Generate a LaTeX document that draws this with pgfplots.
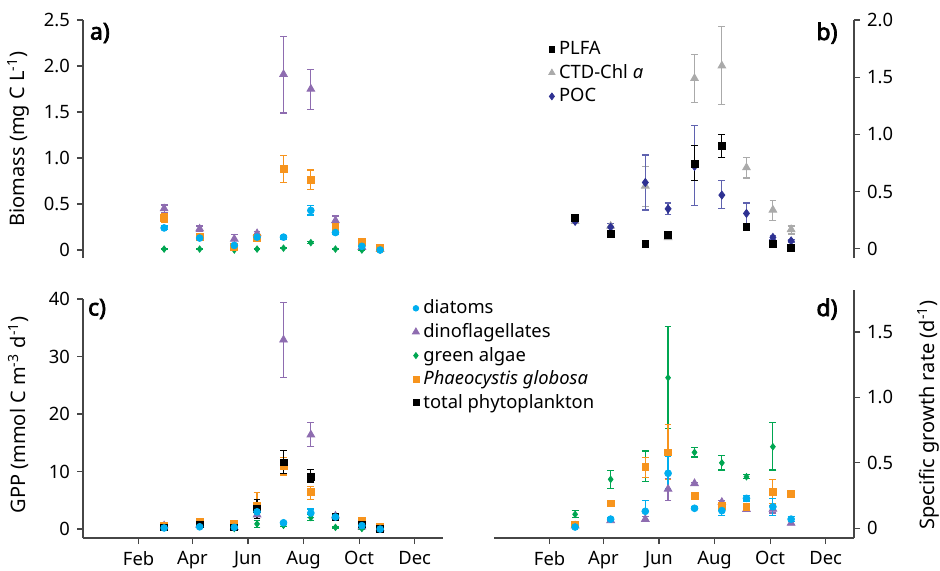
\documentclass[border=0pt]{standalone}
\usepackage{fontspec}
\setmainfont{Noto Sans}
\newfontfamily\panelfam[FakeBold=3]{Noto Sans}
\usepackage{pgfplots}
\pgfplotsset{compat=1.18}
\usepackage{pgfplotstable}

\definecolor{cdia}{RGB}{0,174,239}
\definecolor{cdino}{RGB}{142,108,176}
\definecolor{cgreen}{RGB}{0,166,81}
\definecolor{cphaeo}{RGB}{247,148,29}
\definecolor{cctd}{RGB}{170,170,170}
\definecolor{cpoc}{RGB}{46,49,146}
\definecolor{cpocbar}{RGB}{95,98,175}
\definecolor{caxis}{RGB}{70,70,70}

% x = day of year of each cruise; columns: value, error plus, error minus
% a) biomass per phytoplankton group (mg C L^-1)
\pgfplotstableread{
t   dia  diap diam  dino dinop dinom  gre  grep  grem   pha  phap pham
60  0.24 0.02 0.02  0.45 0.04  0.04   0.01 0.005 0.005  0.35 0.05 0.05
99  0.13 0.02 0.02  0.23 0.03  0.03   0.01 0.005 0.005  0.14 0.02 0.02
137 0.05 0.02 0.02  0.12 0.05  0.05   0.00 0.005 0.005  0.03 0.02 0.02
162 0.14 0.02 0.02  0.18 0.02  0.02   0.01 0.005 0.005  0.13 0.02 0.02
191 0.14 0.02 0.02  1.91 0.41  0.42   0.02 0.005 0.005  0.88 0.15 0.15
221 0.43 0.05 0.05  1.75 0.21  0.22   0.08 0.01  0.01   0.76 0.11 0.10
248 0.19 0.02 0.02  0.32 0.05  0.05   0.01 0.005 0.005  0.25 0.04 0.04
277 0.04 0.02 0.02  0.03 0.01  0.01   0.00 0.005 0.005  0.09 0.03 0.03
297 0.00 0.01 0.01  0.01 0.02  0.02   0.00 0.005 0.005  0.02 0.02 0.02
}\biomass

% b) bulk biomass estimates
\pgfplotstableread{
t   plfa plfap plfam  ctd  ctdp ctdm  poc  pocp pocm
60  0.27 0.01  0.01   0.24 0.01 0.01  0.24 0.01 0.01
99  0.13 0.01  0.01   0.20 0.02 0.02  0.19 0.03 0.03
137 0.04 0.01  0.01   0.55 0.17 0.18  0.58 0.24 0.24
162 0.12 0.01  0.01   0.10 0.01 0.01  0.35 0.05 0.05
191 0.74 0.16  0.14   1.49 0.21 0.21  0.72 0.36 0.34
221 0.90 0.10  0.10   1.60 0.34 0.34  0.47 0.13 0.12
248 0.19 0.02  0.02   0.71 0.09 0.09  0.31 0.09 0.09
277 0.04 0.01  0.01   0.34 0.08 0.09  0.10 0.02 0.02
297 0.01 0.01  0.01   0.17 0.03 0.04  0.07 0.01 0.01
}\bulk

% c) gross primary production (mmol C m^-3 d^-1)
\pgfplotstableread{
t   dia diap diam  dino dinop dinom  gre  grep grem  pha  phap pham  tot  totp totm
60  0.2 0.1  0.1   0.6  0.3   0.3    0.3  0.1  0.1   0.5  0.2  0.2   0.3  0.1  0.1
99  0.4 0.1  0.1   0.7  0.2   0.2    0.5  0.1  0.1   1.3  0.3  0.3   0.8  0.2  0.2
137 0.3 0.1  0.1   0.3  0.1   0.1    0.1  0.1  0.1   1.0  0.2  0.2   0.3  0.1  0.1
162 3.0 0.4  0.4   2.5  0.6   0.6    0.9  0.6  0.6   4.0  2.3  2.2   3.5  1.7  1.7
191 1.1 0.2  0.2   32.9 6.5   6.6    0.65 0.2  0.2   10.9 1.6  1.5   11.6 2.0  1.9
221 2.8 0.7  0.8   16.4 2.1   2.1    2.0  0.5  0.5   6.4  1.0  1.2   9.1  1.3  0.9
248 2.1 0.3  0.3   2.3  0.3   0.3    0.3  0.1  0.1   2.2  0.3  0.3   2.1  0.3  0.3
277 0.6 0.2  0.2   0.4  0.1   0.1    0.1  0.1  0.1   1.5  0.5  0.5   0.8  0.2  0.2
297 0.0 0.1  0.1   0.1  0.1   0.1    0.0  0.1  0.1   0.4  0.2  0.2   0.1  0.1  0.1
}\gpp

% d) specific growth rate (d^-1)
\pgfplotstableread{
t   dia   diap  diam   dino  dinop dinom  gre   grep  grem   pha   phap  pham
60  0.01  0.005 0.005  0.02  0.005 0.005  0.107 0.028 0.027  0.03  0.01  0.01
99  0.07  0.01  0.01   0.06  0.01  0.01   0.374 0.066 0.069  0.19  0.025 0.025
137 0.13  0.08  0.07   0.07  0.02  0.02   0.47  0.12  0.114  0.47  0.07  0.08
162 0.42  0.13  0.12   0.30  0.08  0.09   1.15  0.39  0.39   0.58  0.21  0.21
191 0.153 0.01  0.01   0.343 0.01  0.01   0.58  0.035 0.035  0.25  0.01  0.01
221 0.135 0.035 0.035  0.20  0.01  0.01   0.50  0.055 0.055  0.17  0.01  0.01
248 0.229 0.02  0.02   0.145 0.01  0.01   0.394 0.015 0.015  0.165 0.01  0.01
277 0.165 0.065 0.065  0.147 0.03  0.03   0.623 0.183 0.178  0.28  0.094 0.09
297 0.07  0.02  0.015  0.04  0.01  0.01   nan   nan   nan    0.262 0.01  0.01
}\growth

\newcommand{\tickfont}{\fontsize{9.2}{10}\selectfont}
\newcommand{\panelfont}{\panelfam\fontsize{11.5}{12}\selectfont}

\pgfplotsset{
  panel/.style={
    scale only axis, width=180pt,
    xmin=-29, xmax=366, enlargelimits=false, clip=false,
    axis line style={caxis, line width=0.6pt},
    every tick/.style={caxis, line width=0.6pt},
    major tick length=3pt, tick align=outside,
    tick label style={font=\tickfont, text=black},
    label style={font=\tickfont},
    xtick={32,91,152,213,274,335},
    xticklabels={Feb,Apr,Jun,Aug,Oct,Dec},
    legend cell align=left,
    legend image code/.code={\draw[mark repeat=2,mark phase=2,#1] plot coordinates {(0pt,0pt)(2pt,0pt)(8pt,0pt)};},
  },
  % error bars with caps, both drawn in the colour given as argument
  ebar/.style={
    error bars/y dir=both, error bars/y explicit,
    error bars/error bar style={line width=0.6pt, draw=#1},
    error bars/error mark options={rotate=90, line width=0.6pt, mark size=1.7pt, draw=#1}},
  sdia/.style={only marks, mark=*, mark size=1.7pt, color=cdia, ebar=cdia},
  sdino/.style={only marks, mark=triangle*, mark size=2.2pt, color=cdino, ebar=cdino},
  sgre/.style={only marks, mark=diamond*, mark size=1.6pt, color=cgreen, ebar=cgreen},
  spha/.style={only marks, mark=square*, mark size=1.7pt, color=cphaeo, ebar=cphaeo},
  stot/.style={only marks, mark=square*, mark size=1.7pt, color=black, ebar=black},
  sctd/.style={only marks, mark=triangle*, mark size=2.2pt, color=cctd, ebar=cctd},
  spoc/.style={only marks, mark=diamond*, mark size=2pt, color=cpoc, ebar=cpocbar},
}

\begin{document}
\begin{tikzpicture}
\path[use as bounding box] (0,0) rectangle (470pt,285pt);

% a) group biomass
\begin{axis}[panel, at={(41.5pt,156pt)}, anchor=south west, height=119pt,
  axis x line=none, axis y line*=left,
  ymin=-0.087, ymax=2.5,
  ytick={0,0.5,1,1.5,2,2.5}, yticklabels={0,0.5,1.0,1.5,2.0,2.5},
  ylabel={Biomass (mg C L\textsuperscript{-1})},
  every axis y label/.style={at={(axis description cs:-0.18,0.5)}, anchor=center, rotate=90},
]
\addplot[sdino] table[x=t, y=dino, y error plus=dinop, y error minus=dinom] {\biomass};
\addplot[sgre]  table[x=t, y=gre,  y error plus=grep,  y error minus=grem]  {\biomass};
\addplot[spha]  table[x=t, y=pha,  y error plus=phap,  y error minus=pham]  {\biomass};
\addplot[sdia]  table[x=t, y=dia,  y error plus=diap,  y error minus=diam]  {\biomass};
\node[font=\panelfont] at (axis description cs:0.047,0.945) {a)};
\end{axis}

% b) bulk biomass
\begin{axis}[panel, at={(247pt,156pt)}, anchor=south west, height=119pt,
  axis x line=none, axis y line*=right,
  ymin=-0.08, ymax=2.0,
  ytick={0,0.5,1,1.5,2}, yticklabels={0,0.5,1.0,1.5,2.0},
  legend style={draw=none, fill=none, at={(axis description cs:0.151,0.93)}, anchor=north west,
    font=\tickfont, row sep=-0.5pt, inner sep=0pt},
]
\addlegendimage{only marks, mark=square*, mark size=1.4pt, black}
\addlegendentry{PLFA}
\addlegendimage{only marks, mark=triangle*, mark size=1.8pt, cctd}
\addlegendentry{CTD-Chl \textit{a}}
\addlegendimage{only marks, mark=diamond*, mark size=1.7pt, cpoc}
\addlegendentry{POC}
\addplot[sctd, forget plot] table[x=t, y=ctd,  y error plus=ctdp,  y error minus=ctdm]  {\bulk};
\addplot[spoc, forget plot] table[x=t, y=poc,  y error plus=pocp,  y error minus=pocm]  {\bulk};
\addplot[stot, forget plot] table[x=t, y=plfa, y error plus=plfap, y error minus=plfam] {\bulk};
\node[font=\panelfont] at (axis description cs:0.925,0.945) {b)};
\end{axis}

% c) gross primary production
\begin{axis}[panel, at={(41.5pt,16pt)}, anchor=south west, height=119.5pt,
  axis x line*=bottom, axis y line*=left,
  ymin=-1.55, ymax=40,
  ytick={0,10,20,30,40}, yticklabels={0,10,20,30,40},
  ylabel={GPP (mmol C m\textsuperscript{-3} d\textsuperscript{-1})},
  every axis y label/.style={at={(axis description cs:-0.18,0.515)}, anchor=center, rotate=90},
  legend style={draw=none, fill=none, at={(axis description cs:0.914,1.015)}, anchor=north west,
    font=\tickfont, row sep=-0.7pt, inner sep=0pt},
]
\addlegendimage{only marks, mark=*, mark size=1.4pt, cdia}
\addlegendentry{diatoms}
\addlegendimage{only marks, mark=triangle*, mark size=2pt, cdino}
\addlegendentry{dinoflagellates}
\addlegendimage{only marks, mark=diamond*, mark size=1.5pt, cgreen}
\addlegendentry{green algae}
\addlegendimage{only marks, mark=square*, mark size=1.5pt, cphaeo}
\addlegendentry{\textit{Phaeocystis globosa}}
\addlegendimage{only marks, mark=square*, mark size=1.5pt, black}
\addlegendentry{total phytoplankton}
\addplot[sdino, forget plot] table[x=t, y=dino, y error plus=dinop, y error minus=dinom] {\gpp};
\addplot[sgre,  forget plot] table[x=t, y=gre,  y error plus=grep,  y error minus=grem]  {\gpp};
\addplot[spha,  forget plot] table[x=t, y=pha,  y error plus=phap,  y error minus=pham]  {\gpp};
\addplot[stot,  forget plot] table[x=t, y=tot,  y error plus=totp,  y error minus=totm]  {\gpp};
\addplot[sdia,  forget plot] table[x=t, y=dia,  y error plus=diap,  y error minus=diam]  {\gpp};
\node[font=\panelfont] at (axis description cs:0.039,0.958) {c)};
\end{axis}

% d) specific growth rate
\begin{axis}[panel, at={(247pt,16pt)}, anchor=south west, height=124pt,
  axis x line*=bottom, axis y line*=right,
  ymin=-0.074, ymax=1.82,
  ytick={0,0.5,1,1.5}, yticklabels={0,0.5,1.0,1.5},
  ylabel={Specific growth rate (d\textsuperscript{-1})},
  every axis y label/.style={at={(axis description cs:1.206,0.496)}, anchor=center, rotate=90},
]
\addplot[sdino] table[x=t, y=dino, y error plus=dinop, y error minus=dinom] {\growth};
\addplot[sgre]  table[x=t, y=gre,  y error plus=grep,  y error minus=grem]  {\growth};
\addplot[spha]  table[x=t, y=pha,  y error plus=phap,  y error minus=pham]  {\growth};
\addplot[sdia]  table[x=t, y=dia,  y error plus=diap,  y error minus=diam]  {\growth};
\node[font=\panelfont] at (axis description cs:0.925,0.923) {d)};
\end{axis}
\end{tikzpicture}
\end{document}
